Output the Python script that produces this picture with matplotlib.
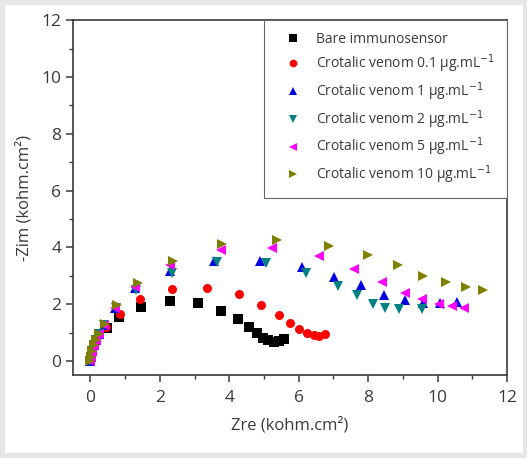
import matplotlib
matplotlib.use("Agg")
import matplotlib.pyplot as plt
from matplotlib.patches import Rectangle
from matplotlib.ticker import MultipleLocator

plt.rcParams["font.family"] = ["Open Sans", "DejaVu Sans"]
plt.rcParams["mathtext.fontset"] = "dejavusans"

# Nyquist data (kohm.cm2)
bare_zre = [0.0, 0.03, 0.06, 0.1, 0.16, 0.24, 0.48, 0.83, 1.47, 2.28, 3.10, 3.77, 4.25,
            4.58, 4.80, 4.97, 5.13, 5.28, 5.42, 5.58]
bare_zim = [0.0, 0.15, 0.35, 0.55, 0.75, 0.95, 1.16, 1.56, 1.91, 2.11, 2.03, 1.77, 1.47,
            1.21, 0.97, 0.82, 0.73, 0.68, 0.70, 0.76]

v01_zre = [0.0, 0.03, 0.06, 0.1, 0.16, 0.24, 0.45, 0.86, 1.44, 2.35, 3.36, 4.27, 4.92,
           5.44, 5.75, 6.02, 6.24, 6.43, 6.59, 6.76]
v01_zim = [0.0, 0.15, 0.35, 0.55, 0.75, 0.95, 1.2, 1.64, 2.17, 2.52, 2.58, 2.35, 1.97,
           1.63, 1.35, 1.13, 0.97, 0.90, 0.89, 0.95]

v1_zre = [0.0, 0.03, 0.06, 0.1, 0.16, 0.24, 0.4, 0.72, 1.29, 2.30, 3.55, 4.89, 6.09,
          7.03, 7.79, 8.47, 9.06, 9.59, 10.07, 10.55]
v1_zim = [0.0, 0.15, 0.35, 0.55, 0.75, 0.95, 1.25, 1.88, 2.56, 3.18, 3.52, 3.52, 3.32,
          2.97, 2.68, 2.31, 2.15, 2.05, 2.03, 2.06]

v2_zre = [0.0, 0.03, 0.06, 0.1, 0.16, 0.24, 0.4, 0.74, 1.32, 2.35, 3.65, 5.05, 6.22,
          7.13, 7.69, 8.13, 8.49, 8.89, 9.54]
v2_zim = [0.0, 0.15, 0.35, 0.55, 0.75, 0.95, 1.25, 1.85, 2.5, 3.11, 3.50, 3.46, 3.11,
          2.65, 2.31, 2.01, 1.88, 1.82, 1.83]

v5_zre = [0.0, 0.03, 0.06, 0.1, 0.16, 0.24, 0.38, 0.72, 1.30, 2.30, 3.77, 5.24, 6.59,
          7.60, 8.39, 9.05, 9.56, 10.05, 10.41, 10.77]
v5_zim = [0.0, 0.15, 0.35, 0.55, 0.75, 0.95, 1.28, 1.88, 2.62, 3.38, 3.91, 3.98, 3.70,
          3.23, 2.79, 2.38, 2.17, 2.01, 1.94, 1.88]

v10_zre = [0.0, 0.03, 0.06, 0.1, 0.16, 0.24, 0.43, 0.77, 1.36, 2.38, 3.79, 5.38, 6.86,
           8.01, 8.87, 9.57, 10.24, 10.82, 11.32]
v10_zim = [0.0, 0.15, 0.35, 0.55, 0.75, 0.95, 1.30, 1.97, 2.73, 3.53, 4.11, 4.25, 4.06,
           3.73, 3.36, 3.00, 2.77, 2.62, 2.48]

series = [
    (bare_zre, bare_zim, "s", "black", "Bare immunosensor"),
    (v01_zre, v01_zim, "o", "red", r"Crotalic venom 0.1 µg.mL$^{-1}$"),
    (v1_zre, v1_zim, "^", "#0000e0", r"Crotalic venom 1 µg.mL$^{-1}$"),
    (v2_zre, v2_zim, "v", "#008080", r"Crotalic venom 2 µg.mL$^{-1}$"),
    (v5_zre, v5_zim, "<", "#ff00ff", r"Crotalic venom 5 µg.mL$^{-1}$"),
    (v10_zre, v10_zim, ">", "#808000", r"Crotalic venom 10 µg.mL$^{-1}$"),
]

fig = plt.figure(figsize=(5.27, 4.58), dpi=100, facecolor="#e6e6e6")
fig.patches.append(Rectangle((5 / 527, 5 / 458), 518 / 527, 448 / 458,
                             transform=fig.transFigure, facecolor="white",
                             edgecolor="none", zorder=-10))
ax = fig.add_axes([0.1385, 0.181, 0.8235, 0.775])
ax.set_zorder(5)

for zre, zim, mk, col, lab in series:
    ax.plot(zre, zim, linestyle="none", marker=mk, color=col, markersize=6.5,
            markeredgewidth=0, label=lab)

ax.set_xlim(-0.5, 12)
ax.set_ylim(-0.5, 12)
ax.xaxis.set_major_locator(MultipleLocator(2))
ax.xaxis.set_minor_locator(MultipleLocator(1))
ax.yaxis.set_major_locator(MultipleLocator(2))
ax.yaxis.set_minor_locator(MultipleLocator(1))
ax.tick_params(which="major", direction="out", length=5, width=1.1,
               labelsize=12.5, colors="#3a3a3a", labelcolor="#3a3a3a")
ax.tick_params(axis="x", which="major", pad=6)
ax.tick_params(which="minor", direction="out", length=3, width=1.0, colors="#3a3a3a")
for sp in ax.spines.values():
    sp.set_linewidth(1.2)
    sp.set_color("#3a3a3a")

ax.set_xlabel("Zre (kohm.cm²)", fontsize=12, color="#3a3a3a", labelpad=8)
ax.set_ylabel("-Zim (kohm.cm²)", fontsize=12, color="#3a3a3a", labelpad=6)

leg = ax.legend(loc="upper right", borderaxespad=0, fancybox=False, framealpha=1,
                edgecolor="#666666", fontsize=10, handletextpad=0.4,
                labelspacing=0.38, borderpad=0.85, handlelength=2.5,
                markerscale=0.85, labelcolor="#3a3a3a")
leg.get_frame().set_linewidth(0.8)

fig.savefig("out.png", dpi=100, facecolor=fig.get_facecolor())
